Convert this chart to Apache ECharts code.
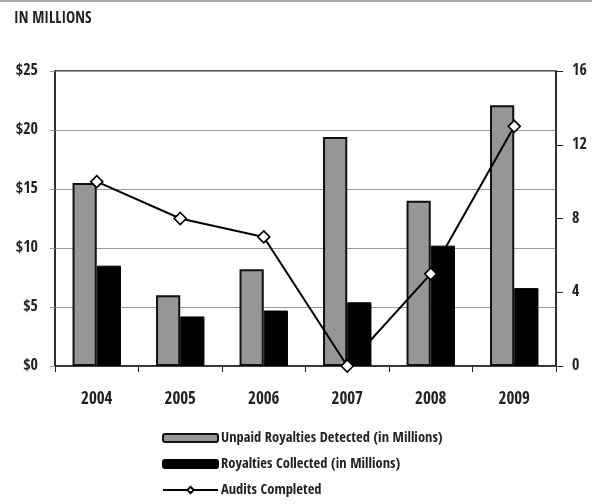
<!DOCTYPE html>
<html>
<head>
<meta charset="utf-8">
<script src="https://cdn.jsdelivr.net/npm/echarts@6/dist/echarts.min.js"></script>
<style>
html,body{margin:0;padding:0;background:#fff;}
#chart{width:592px;height:504px;}
</style>
</head>
<body>
<div id="chart"></div>
<script>
var years = ['2004','2005','2006','2007','2008','2009'];
var unpaidDetected = [15.5, 6.0, 8.2, 19.4, 14.0, 22.1];
var royaltiesCollected = [8.5, 4.2, 4.7, 5.4, 10.2, 6.6];
var auditsCompleted = [10, 8, 7, 0, 5, 13];
var leftTicks = ['$0','$5','$10','$15','$20','$25'];
var rightTicks = ['0','4','8','12','16'];

var FONT = '"Open Sans Condensed", "Roboto Condensed", sans-serif';
var W = 600;
var chart = echarts.init(document.getElementById('chart'), null, {renderer:'canvas'});
chart.setOption({
  animation: false,
  textStyle: {fontFamily: FONT},
  graphic: [
    {type:'rect', shape:{x:0,y:0,width:592,height:2}, style:{fill:'#aaaaaa'}},
    {type:'text', left:14, top:11, style:{text:'IN MILLIONS', font:W + ' 15.5px ' + FONT, fill:'#222'}}
  ],
  grid: {left:55, right:36, top:71, bottom:138, show:true, borderColor:'#222', borderWidth:1.5},
  legend: {
    orient:'vertical', left:162, top:430, padding:0, itemWidth:55, itemHeight:8, itemGap:10,
    textStyle:{fontFamily:FONT, fontSize:14.5, fontWeight:W, color:'#222', lineHeight:16, padding:[0,0,0,-2]},
    data:[
      {name:'Unpaid Royalties Detected (in Millions)'},
      {name:'Royalties Collected (in Millions)'},
      {name:'Audits Completed'}
    ]
  },
  xAxis: {
    type:'category', data: years,
    axisLine:{lineStyle:{color:'#222', width:1.5}},
    axisTick:{show:true, length:6, lineStyle:{color:'#222'}},
    axisLabel:{fontFamily:FONT, fontSize:17, fontWeight:W, color:'#222', margin:25}
  },
  yAxis: [
    {
      type:'value', min:0, max:25, interval:5,
      axisLine:{show:true, lineStyle:{color:'#222', width:1.5}},
      axisTick:{show:true, length:5, lineStyle:{color:'#999'}},
      splitLine:{lineStyle:{color:'#999', width:1}},
      axisLabel:{fontFamily:FONT, fontSize:16, fontWeight:W, color:'#222', margin:17,
        formatter:function(v){ return leftTicks[Math.round(v/5)]; }}
    },
    {
      type:'value', min:0, max:16, interval:4, position:'right',
      axisLine:{show:true, lineStyle:{color:'#222', width:1.5}},
      axisTick:{show:true, length:7, lineStyle:{color:'#222'}},
      splitLine:{show:false},
      axisLabel:{fontFamily:FONT, fontSize:16, fontWeight:W, color:'#222', margin:16,
        formatter:function(v){ return rightTicks[Math.round(v/4)]; }}
    }
  ],
  series: [
    {
      name:'Unpaid Royalties Detected (in Millions)', type:'bar', data: unpaidDetected,
      barGap:'0%', barCategoryGap:'42%',
      itemStyle:{color:'#969696', borderColor:'#111', borderWidth:2}
    },
    {
      name:'Royalties Collected (in Millions)', type:'bar', data: royaltiesCollected,
      barGap:'0%', barCategoryGap:'42%',
      itemStyle:{color:'#000', borderColor:'#000', borderWidth:1}
    },
    {
      name:'Audits Completed', type:'line', yAxisIndex:1, data: auditsCompleted,
      z:5, symbol:'diamond', symbolSize:12,
      lineStyle:{color:'#000', width:2},
      itemStyle:{color:'#fff', borderColor:'#000', borderWidth:1.6}
    }
  ]
});
</script>
</body>
</html>
